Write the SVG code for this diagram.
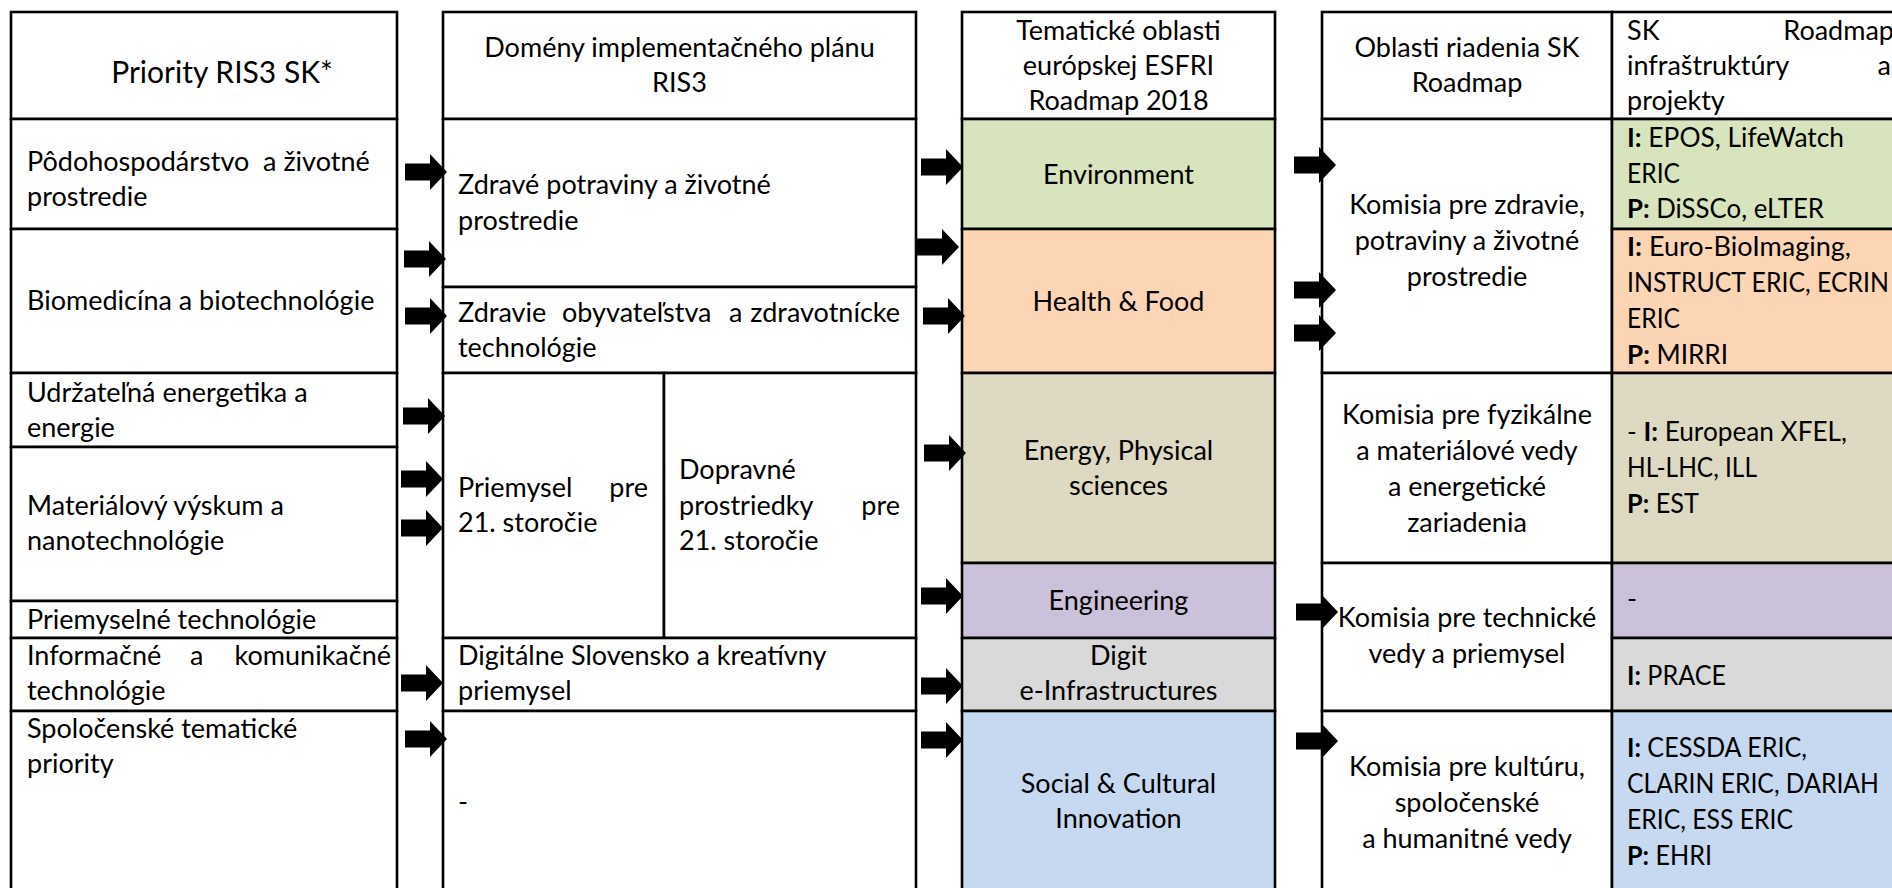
<svg xmlns="http://www.w3.org/2000/svg" width="1892" height="888" viewBox="0 0 1892 888">
<style>
.cell{stroke:#000;stroke-width:2.6;fill:#fff}
.g{fill:#D7E4BD}.o{fill:#FCD5B5}.tan{fill:#DDD9C3}.p{fill:#CCC1DA}.gr{fill:#D9D9D9}.bl{fill:#C6D9F1}
text{font-family:Lato,"Open Sans",sans-serif;font-size:27px;fill:#000}
.c{text-anchor:middle}.e{text-anchor:end}.b{font-weight:bold}
</style>
<defs>
<path id="arr" d="M0,-8.5 H25 V-18 L42,0 L25,18 V8.5 H0 Z" fill="#000"/>
</defs>
<rect width="1892" height="888" fill="#fff"/>
<g id="table1">
<g id="t1-head"><rect class="cell" x="11" y="12" width="386" height="107"/><text class="c" x="222" y="83" style="font-size:30px">Priority RIS3 SK*</text></g>
<g id="t1-r1"><rect class="cell" x="11" y="119" width="386" height="110"/><text x="27" y="171" xml:space="preserve">Pôdohospodárstvo  a životné</text><text x="27" y="206">prostredie</text></g>
<g id="t1-r2"><rect class="cell" x="11" y="229" width="386" height="144"/><text x="27" y="310">Biomedicína a biotechnológie</text></g>
<g id="t1-r3"><rect class="cell" x="11" y="373" width="386" height="74"/><text x="27" y="402">Udržateľná energetika a</text><text x="27" y="437">energie</text></g>
<g id="t1-r4"><rect class="cell" x="11" y="447" width="386" height="154"/><text x="27" y="515">Materiálový výskum a</text><text x="27" y="550">nanotechnológie</text></g>
<g id="t1-r5"><rect class="cell" x="11" y="601" width="386" height="37"/><text x="27" y="629">Priemyselné technológie</text></g>
<g id="t1-r6"><rect class="cell" x="11" y="638" width="386" height="73"/><text x="27" y="665">Informačné</text><text x="190" y="665">a</text><text class="e" x="391" y="665">komunikačné</text><text x="27" y="700">technológie</text></g>
<g id="t1-r7"><rect class="cell" x="11" y="711" width="386" height="200"/><text x="27" y="738">Spoločenské tematické</text><text x="27" y="773">priority</text></g>
</g>
<g id="table2">
<g id="t2-head"><rect class="cell" x="443" y="12" width="473" height="107"/><text class="c" x="679.5" y="57">Domény implementačného plánu</text><text class="c" x="679.5" y="92">RIS3</text></g>
<g id="t2-r1"><rect class="cell" x="443" y="119" width="473" height="168"/><text x="458" y="194">Zdravé potraviny a životné</text><text x="458" y="230">prostredie</text></g>
<g id="t2-r2"><rect class="cell" x="443" y="287" width="473" height="86"/><text x="458" y="322">Zdravie</text><text x="562" y="322">obyvateľstva</text><text x="729" y="322">a</text><text class="e" x="900" y="322">zdravotnícke</text><text x="458" y="357">technológie</text></g>
<g id="t2-r3a"><rect class="cell" x="443" y="373" width="221" height="265"/><text x="458" y="497">Priemysel</text><text class="e" x="648" y="497">pre</text><text x="458" y="532">21. storočie</text></g>
<g id="t2-r3b"><rect class="cell" x="664" y="373" width="252" height="265"/><text x="679" y="479">Dopravné</text><text x="679" y="515">prostriedky</text><text class="e" x="900" y="515">pre</text><text x="679" y="550">21. storočie</text></g>
<g id="t2-r4"><rect class="cell" x="443" y="638" width="473" height="73"/><text x="458" y="665">Digitálne Slovensko a kreatívny</text><text x="458" y="700">priemysel</text></g>
<g id="t2-r5"><rect class="cell" x="443" y="711" width="473" height="200"/><text x="458" y="811">-</text></g>
</g>
<g id="table3">
<g id="t3-head"><rect class="cell" x="962" y="12" width="313" height="107"/><text class="c" x="1118.5" y="40">Tematické oblasti</text><text class="c" x="1118.5" y="75">európskej ESFRI</text><text class="c" x="1118.5" y="110">Roadmap 2018</text></g>
<g id="t3-env"><rect class="cell g" x="962" y="119" width="313" height="110"/><text class="c" x="1118.5" y="184">Environment</text></g>
<g id="t3-health"><rect class="cell o" x="962" y="229" width="313" height="144"/><text class="c" x="1118.5" y="311">Health &amp; Food</text></g>
<g id="t3-energy"><rect class="cell tan" x="962" y="373" width="313" height="190"/><text class="c" x="1118.5" y="460">Energy, Physical</text><text class="c" x="1118.5" y="495">sciences</text></g>
<g id="t3-eng"><rect class="cell p" x="962" y="563" width="313" height="75"/><text class="c" x="1118.5" y="610">Engineering</text></g>
<g id="t3-digit"><rect class="cell gr" x="962" y="638" width="313" height="73"/><text class="c" x="1118.5" y="665">Digit</text><text class="c" x="1118.5" y="700">e-Infrastructures</text></g>
<g id="t3-social"><rect class="cell bl" x="962" y="711" width="313" height="200"/><text class="c" x="1118.5" y="793">Social &amp; Cultural</text><text class="c" x="1118.5" y="828">Innovation</text></g>
</g>
<g id="table4">
<g id="t4-head"><rect class="cell" x="1322" y="12" width="290" height="107"/><text class="c" x="1467" y="57">Oblasti riadenia SK</text><text class="c" x="1467" y="92">Roadmap</text></g>
<g id="t4-k1"><rect class="cell" x="1322" y="119" width="290" height="254"/><text class="c" x="1467" y="214">Komisia pre zdravie,</text><text class="c" x="1467" y="250">potraviny a životné</text><text class="c" x="1467" y="286">prostredie</text></g>
<g id="t4-k2"><rect class="cell" x="1322" y="373" width="290" height="190"/><text class="c" x="1467" y="424">Komisia pre fyzikálne</text><text class="c" x="1467" y="460">a materiálové vedy</text><text class="c" x="1467" y="496">a energetické</text><text class="c" x="1467" y="532">zariadenia</text></g>
<g id="t4-k3"><rect class="cell" x="1322" y="563" width="290" height="148"/><text class="c" x="1467" y="627">Komisia pre technické</text><text class="c" x="1467" y="663">vedy a priemysel</text></g>
<g id="t4-k4"><rect class="cell" x="1322" y="711" width="290" height="200"/><text class="c" x="1467" y="776">Komisia pre kultúru,</text><text class="c" x="1467" y="812">spoločenské</text><text class="c" x="1467" y="848">a humanitné vedy</text></g>
</g>
<g id="table5">
<g id="t5-head"><rect class="cell" x="1612" y="12" width="300" height="107"/><text x="1627" y="40">SK</text><text class="e" x="1894" y="40">Roadmap</text><text x="1627" y="75">infraštruktúry</text><text class="e" x="1891" y="75">a</text><text x="1627" y="110">projekty</text></g>
<g id="t5-env"><rect class="cell g" x="1612" y="119" width="300" height="110"/><text x="1627" y="147" textLength="217" lengthAdjust="spacingAndGlyphs"><tspan class="b">I:</tspan> EPOS, LifeWatch</text><text x="1627" y="183" textLength="53" lengthAdjust="spacingAndGlyphs">ERIC</text><text x="1627" y="218" textLength="197" lengthAdjust="spacingAndGlyphs"><tspan class="b">P:</tspan> DiSSCo, eLTER</text></g>
<g id="t5-health"><rect class="cell o" x="1612" y="229" width="300" height="144"/><text x="1627" y="256" textLength="224" lengthAdjust="spacingAndGlyphs"><tspan class="b">I:</tspan> Euro-BioImaging,</text><text x="1627" y="292" textLength="262" lengthAdjust="spacingAndGlyphs">INSTRUCT ERIC, ECRIN</text><text x="1627" y="328" textLength="53" lengthAdjust="spacingAndGlyphs">ERIC</text><text x="1627" y="364" textLength="101" lengthAdjust="spacingAndGlyphs"><tspan class="b">P:</tspan> MIRRI</text></g>
<g id="t5-energy"><rect class="cell tan" x="1612" y="373" width="300" height="190"/><text x="1627" y="441" textLength="220" lengthAdjust="spacingAndGlyphs">- <tspan class="b">I:</tspan> European XFEL,</text><text x="1627" y="477" textLength="130" lengthAdjust="spacingAndGlyphs">HL-LHC, ILL</text><text x="1627" y="513" textLength="72" lengthAdjust="spacingAndGlyphs"><tspan class="b">P:</tspan> EST</text></g>
<g id="t5-eng"><rect class="cell p" x="1612" y="563" width="300" height="75"/><text x="1627" y="608">-</text></g>
<g id="t5-digit"><rect class="cell gr" x="1612" y="638" width="300" height="73"/><text x="1627" y="685" textLength="99" lengthAdjust="spacingAndGlyphs"><tspan class="b">I:</tspan> PRACE</text></g>
<g id="t5-social"><rect class="cell bl" x="1612" y="711" width="300" height="200"/><text x="1627" y="757" textLength="180" lengthAdjust="spacingAndGlyphs"><tspan class="b">I:</tspan> CESSDA ERIC,</text><text x="1627" y="793" textLength="252" lengthAdjust="spacingAndGlyphs">CLARIN ERIC, DARIAH</text><text x="1627" y="829" textLength="166" lengthAdjust="spacingAndGlyphs">ERIC, ESS ERIC</text><text x="1627" y="865" textLength="85" lengthAdjust="spacingAndGlyphs"><tspan class="b">P:</tspan> EHRI</text></g>
</g>
<g id="connectors">
<use href="#arr" x="405" y="172"/>
<use href="#arr" x="404" y="259"/>
<use href="#arr" x="405" y="316"/>
<use href="#arr" x="403" y="416"/>
<use href="#arr" x="401" y="479"/>
<use href="#arr" x="401" y="528"/>
<use href="#arr" x="401" y="683"/>
<use href="#arr" x="405" y="739"/>
<use href="#arr" x="921" y="167"/>
<use href="#arr" x="917" y="247"/>
<use href="#arr" x="923" y="316"/>
<use href="#arr" x="924" y="453"/>
<use href="#arr" x="921" y="596"/>
<use href="#arr" x="921" y="686"/>
<use href="#arr" x="921" y="740"/>
<use href="#arr" x="1294" y="165"/>
<use href="#arr" x="1294" y="290"/>
<use href="#arr" x="1294" y="333"/>
<use href="#arr" x="1296" y="612"/>
<use href="#arr" x="1296" y="741"/>
</g>
</svg>
